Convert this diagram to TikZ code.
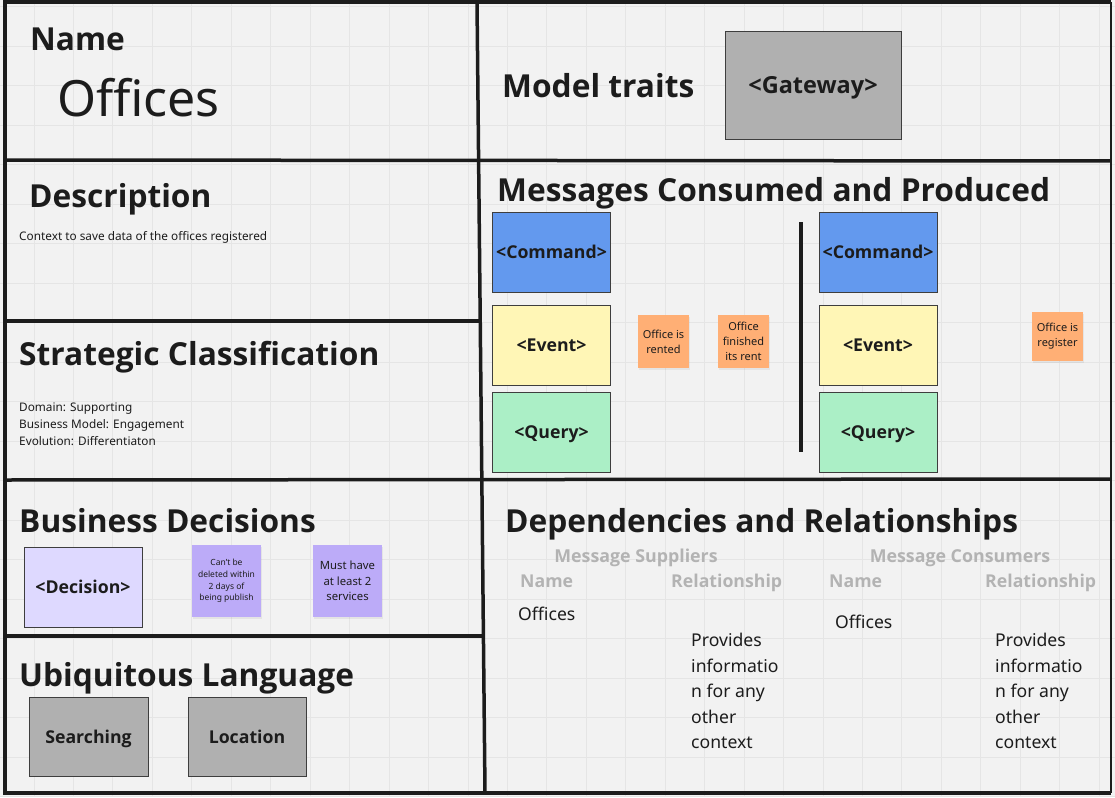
\documentclass[tikz,border=0pt]{standalone}
\usepackage{fontspec}
\IfFontExistsTF{Open Sans Bold}
	{\setmainfont{Noto Sans}[BoldFont={Open Sans Bold}]}
	{\setmainfont{Noto Sans}[AutoFakeBold=2.5]}
\usetikzlibrary{shadows}
\definecolor{paper}{HTML}{F2F2F2}
\definecolor{gridc}{HTML}{E5E5E5}
\definecolor{ink}{HTML}{1C1C1C}
\definecolor{cmdblue}{HTML}{6399EE}
\definecolor{evtyellow}{HTML}{FFF6B6}
\definecolor{qrygreen}{HTML}{ABEFC6}
\definecolor{evtorange}{HTML}{FFAF75}
\definecolor{decpurple}{HTML}{BCABF8}
\definecolor{declight}{HTML}{DED9FF}
\definecolor{traitgray}{HTML}{B0B0B0}
\definecolor{dimtext}{HTML}{B3B3B3}

\begin{document}
\begin{tikzpicture}
	[x=1pt, y=-1pt,
	border/.style ={draw=ink, line width=3.5pt},
	gridline/.style ={draw=gridc, line width=0.9pt},
	head/.style ={anchor=base west, inner sep=0pt, text=ink, font=\fontsize{31.7}{38}\selectfont\bfseries},
	small/.style ={anchor=base west, inner sep=0pt, text=ink, font=\fontsize{11.8}{16.7}\selectfont},
	card/.style ={rectangle, draw=ink!85, thick, minimum width=118pt, minimum height=80pt, text depth=0pt, text=ink, font=\fontsize{17.7}{21}\selectfont\bfseries},
	sticky/.style ={rectangle, fill=evtorange, minimum width=51pt, minimum height=53pt, inner sep=1pt, align=center, text=ink, font=\fontsize{11}{15}\selectfont, drop shadow={opacity=0.12, shadow xshift=0.5pt, shadow yshift=-1.5pt}},
	note/.style ={rectangle, fill=decpurple, minimum width=69pt, minimum height=72pt, inner sep=1pt, align=center, text=ink, drop shadow={opacity=0.12, shadow xshift=0.5pt, shadow yshift=-1.5pt}},
	colhead/.style ={anchor=base, inner sep=0pt, text=dimtext, font=\fontsize{17.8}{21}\selectfont\bfseries},
	colname/.style ={anchor=base west, inner sep=0pt, text=dimtext, font=\fontsize{17.7}{21}\selectfont\bfseries},
	entry/.style ={anchor=base west, inner sep=0pt, text=ink, font=\fontsize{17.6}{25.5}\selectfont, align=left}]
	\useasboundingbox (0,0) rectangle (1115,797);
	\fill[paper] (0,0) rectangle (1115,797);
	\foreach \gx in {0,...,27}
		\draw[gridline] ({34+39.45*\gx},0) -- ({34+39.45*\gx},797);
	\foreach \gy in {0,...,20}
		\draw[gridline] (0,{6.8+39.5*\gy}) -- (1115,{6.8+39.5*\gy});
	\draw[border] (1111,2) -- (5,2) -- (5,793) -- (1111,793);
	\draw[border, line width=2pt] (1111,2) -- (1111,793);
	\draw[border] (477,2) -- (485,793);
	\draw[border] (5,160) -- (1111,161);
	\draw[border] (5,321) -- (479,321);
	\draw[border] (5,480) -- (1111,479);
	\draw[border] (5,636) -- (484,636);
	\draw (30,51) node[head] (name) {Name};
	\draw (57,117) node[anchor=base west, inner sep=0pt, text=ink, font=\fontsize{50}{60}\selectfont] (office) {Offices};
	\draw (29,207) node[head] (desc) {Description};
	\draw (19,240) node[small] (desctext) {Context to save data of the offices registered};
	\draw (19,365) node[head] (strat) {Strategic Classification};
	\draw (19,403) node[small, anchor=north west, align=left] (strattext) {Domain: Supporting\\Business Model: Engagement\\Evolution: Differentiaton};
	\draw (19,532) node[head] (bizdec) {Business Decisions};
	\draw (83,587) node[card, fill=declight] (decision) {<Decision>};
	\draw (226.5,581) node[note, font=\fontsize{8.5}{11.7}\selectfont] (rule1) {Can't be\\deleted within\\2 days of\\being publish};
	\draw (347.5,581) node[note, font=\fontsize{11.3}{15.5}\selectfont] (rule2) {Must have\\at least 2\\services};
	\draw (19,686) node[head] (ubiq) {Ubiquitous Language};
	\draw (88.5,736.5) node[card, fill=traitgray, minimum width=119pt, minimum height=79pt] (search) {Searching};
	\draw (247,736.5) node[card, fill=traitgray, minimum width=118pt, minimum height=79pt] (location) {Location};
	\draw (502,98) node[head] (traits) {Model traits};
	\draw (813,85) node[card, fill=traitgray, minimum width=176pt, minimum height=108pt, font=\fontsize{23.5}{27}\selectfont\bfseries] (gateway) {<Gateway>};
	\draw (497,201) node[head] (msgs) {Messages Consumed and Produced};
	\draw (551.5,252) node[card, fill=cmdblue] (cmdin) {<Command>};
	\draw (551.5,345) node[card, fill=evtyellow] (evtin) {<Event>};
	\draw (551.5,432) node[card, fill=qrygreen] (qryin) {<Query>};
	\draw (663.5,341.5) node[sticky] (rented) {Office is\\rented};
	\draw (743.5,341.5) node[sticky] (finished) {Office\\finished\\its rent};
	\draw[ink, line width=4pt] (801,222) -- (801,452);
	\draw (878,252) node[card, fill=cmdblue] (cmdout) {<Command>};
	\draw (878,345) node[card, fill=evtyellow] (evtout) {<Event>};
	\draw (878,432) node[card, fill=qrygreen] (qryout) {<Query>};
	\draw (1057.5,336.5) node[sticky, minimum height=49pt] (registered) {Office is\\register};
	\draw (505,532) node[head] (deps) {Dependencies and Relationships};
	\draw (636,562) node[colhead] (suppliers) {Message Suppliers};
	\draw (960,562) node[colhead] (consumers) {Message Consumers};
	\draw (520,587) node[colname] (supname) {Name};
	\draw (671,587) node[colname] (suprel) {Relationship};
	\draw (829,587) node[colname] (conname) {Name};
	\draw (985,587) node[colname] (conrel) {Relationship};
	\draw (518,620) node[entry] (supoffice) {Offices};
	\draw (835,628) node[entry] (conoffice) {Offices};
	\draw (691,633) node[entry, anchor=north west] (supdesc) {Provides\\informatio\\n for any\\other\\context};
	\draw (995,633) node[entry, anchor=north west] (condesc) {Provides\\informatio\\n for any\\other\\context};
\end{tikzpicture}
\end{document}
